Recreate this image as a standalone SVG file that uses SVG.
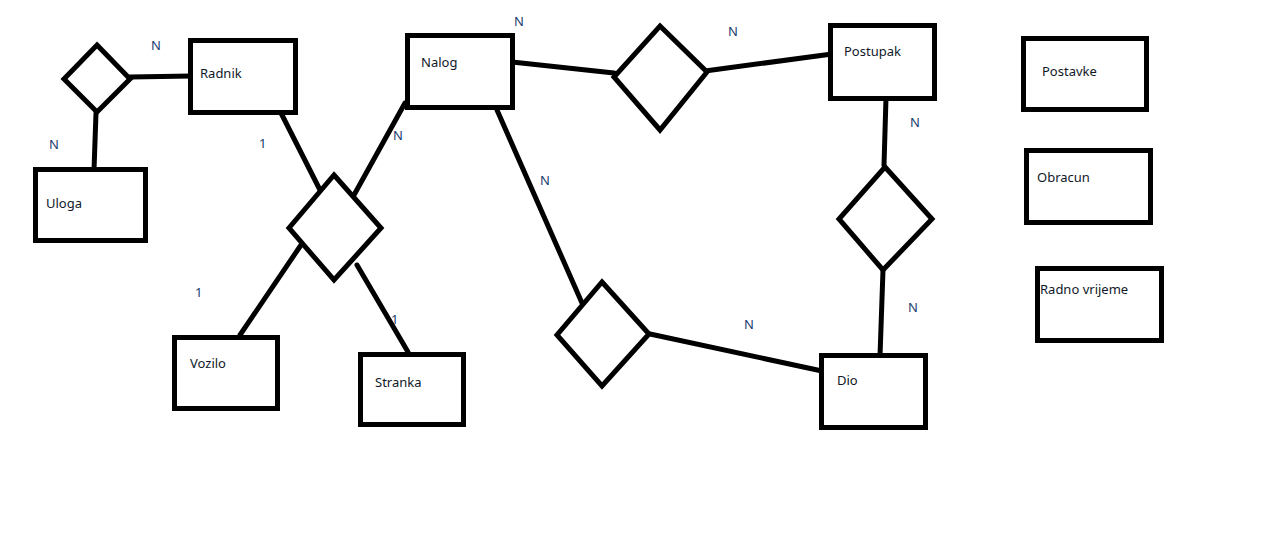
<svg xmlns="http://www.w3.org/2000/svg" width="1262" height="559" viewBox="0 0 1262 559">
<style>
.box{fill:#fff;stroke:#000;stroke-width:5}
.dia{fill:#fff;stroke:#000;stroke-width:5;stroke-linejoin:miter}
.ln{stroke:#000;stroke-width:5;fill:none;stroke-linecap:round}
.t{font-family:"Noto Sans","Open Sans",sans-serif;font-size:13px;fill:#101828}
.c{font-family:"Noto Sans","Open Sans",sans-serif;font-size:13px;fill:#1a3d6e}
</style>
<rect width="1262" height="559" fill="#fff"/>
<g id="connectors">
<line class="ln" x1="130" y1="77" x2="192" y2="76"/>
<line class="ln" x1="96" y1="113" x2="94" y2="170"/>
<line class="ln" x1="281" y1="113" x2="320" y2="190"/>
<line class="ln" x1="405" y1="103" x2="354" y2="195"/>
<line class="ln" x1="301" y1="245" x2="240" y2="335"/>
<line class="ln" x1="357" y1="265" x2="408" y2="352"/>
<line class="ln" x1="512" y1="62" x2="614" y2="73"/>
<line class="ln" x1="705" y1="71" x2="832" y2="54"/>
<line class="ln" x1="497" y1="110" x2="582" y2="303"/>
<line class="ln" x1="650" y1="334" x2="822" y2="371"/>
<line class="ln" x1="886" y1="98" x2="884" y2="165"/>
<line class="ln" x1="883" y1="270" x2="880" y2="356"/>
</g>
<g id="rel-radnik-uloga"><polygon class="dia" points="97,45 130,79 97,112 64,79"/></g>
<g id="rel-radnik-nalog"><polygon class="dia" points="334,175 381,228 334,280 289,228"/></g>
<g id="rel-nalog-postupak"><polygon class="dia" points="660,26 707,72 660,130 614,77"/></g>
<g id="rel-nalog-dio"><polygon class="dia" points="602,282 649,334 602,386 557,335"/></g>
<g id="rel-postupak-dio"><polygon class="dia" points="885,167 932,219 883,270 839,219"/></g>
<g id="radnik"><rect class="box" x="190.5" y="40.5" width="105" height="72"/><text class="t" x="200" y="78">Radnik</text></g>
<g id="uloga"><rect class="box" x="35.5" y="169.5" width="110" height="71"/><text class="t" x="46" y="208">Uloga</text></g>
<g id="nalog"><rect class="box" x="407.5" y="35.5" width="105" height="72"/><text class="t" x="421" y="67">Nalog</text></g>
<g id="postupak"><rect class="box" x="830.5" y="25.5" width="104" height="73"/><text class="t" x="844" y="56">Postupak</text></g>
<g id="postavke"><rect class="box" x="1023.5" y="38.5" width="123" height="71"/><text class="t" x="1042" y="76">Postavke</text></g>
<g id="obracun"><rect class="box" x="1026.5" y="150.5" width="124" height="72"/><text class="t" x="1037" y="182">Obracun</text></g>
<g id="radno-vrijeme"><rect class="box" x="1037.5" y="268.5" width="124" height="72"/><text class="t" x="1040" y="294">Radno vrijeme</text></g>
<g id="vozilo"><rect class="box" x="174.5" y="337.5" width="103" height="71"/><text class="t" x="190" y="368">Vozilo</text></g>
<g id="stranka"><rect class="box" x="360.5" y="354.5" width="103" height="70"/><text class="t" x="375" y="387">Stranka</text></g>
<g id="dio"><rect class="box" x="821.5" y="355.5" width="104" height="72"/><text class="t" x="837" y="385">Dio</text></g>
<g id="labels">
<text class="c" x="151" y="50">N</text>
<text class="c" x="49" y="149">N</text>
<text class="c" x="259" y="148">1</text>
<text class="c" x="393" y="140">N</text>
<text class="c" x="195" y="297">1</text>
<text class="c" x="391" y="324">1</text>
<text class="c" x="514" y="26">N</text>
<text class="c" x="728" y="36">N</text>
<text class="c" x="540" y="185">N</text>
<text class="c" x="910" y="127">N</text>
<text class="c" x="908" y="312">N</text>
<text class="c" x="744" y="329">N</text>
</g>
</svg>
